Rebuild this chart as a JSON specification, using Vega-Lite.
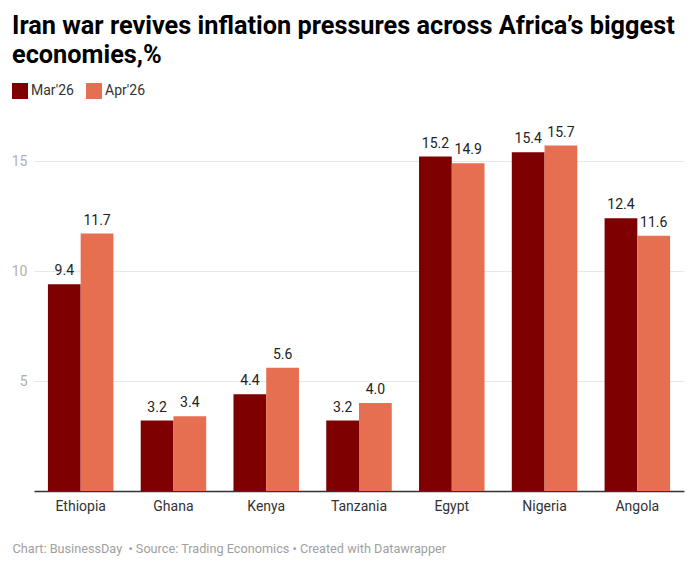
{
  "$schema": "https://vega.github.io/schema/vega-lite/v6.json",
  "width": 650,
  "height": 374,
  "autosize": "none",
  "padding": {"left": 34, "right": 12, "top": 117, "bottom": 76},
  "background": "white",
  "view": {"stroke": null},
  "title": {
    "text": ["Iran war revives inflation pressures across Africa’s biggest", "economies,%"],
    "anchor": "start",
    "frame": "group",
    "dx": -22,
    "font": "Roboto",
    "fontSize": 25.3,
    "fontWeight": 700,
    "color": "#000000",
    "lineHeight": 29,
    "offset": 15
  },
  "data": {
    "values": [
      {"country": "Ethiopia", "month": "Mar'26", "value": 9.4},
      {"country": "Ethiopia", "month": "Apr'26", "value": 11.7},
      {"country": "Ghana", "month": "Mar'26", "value": 3.2},
      {"country": "Ghana", "month": "Apr'26", "value": 3.4},
      {"country": "Kenya", "month": "Mar'26", "value": 4.4},
      {"country": "Kenya", "month": "Apr'26", "value": 5.6},
      {"country": "Tanzania", "month": "Mar'26", "value": 3.2},
      {"country": "Tanzania", "month": "Apr'26", "value": 4.0},
      {"country": "Egypt", "month": "Mar'26", "value": 15.2},
      {"country": "Egypt", "month": "Apr'26", "value": 14.9},
      {"country": "Nigeria", "month": "Mar'26", "value": 15.4},
      {"country": "Nigeria", "month": "Apr'26", "value": 15.7},
      {"country": "Angola", "month": "Mar'26", "value": 12.4},
      {"country": "Angola", "month": "Apr'26", "value": 11.6}
    ]
  },
  "encoding": {
    "x": {
      "field": "country",
      "type": "nominal",
      "sort": null,
      "title": "Chart: BusinessDay\u00a0 • Source: Trading Economics • Created with Datawrapper",
      "scale": {"paddingInner": 0.294, "paddingOuter": 0.15},
      "axis": {
        "labelAngle": 0, "labelFont": "Roboto", "labelFontSize": 14, "labelColor": "#333333", "labelPadding": 8,
        "ticks": false, "domainColor": "#333333", "domainWidth": 1.5, "grid": false,
        "titleFont": "Roboto", "titleFontSize": 12.7, "titleFontWeight": 400, "titleColor": "#a0a0a0",
        "titleAnchor": "start", "titleAlign": "left", "titleBaseline": "alphabetic", "titleX": -22, "titleY": 61
      }
    },
    "xOffset": {"field": "month", "type": "nominal", "sort": ["Mar'26", "Apr'26"]},
    "y": {
      "field": "value",
      "type": "quantitative",
      "title": null,
      "scale": {"domain": [0, 17]},
      "axis": {"values": [5, 10, 15], "orient": "left", "labelFont": "Roboto", "labelFontSize": 14, "labelColor": "#b0b0b0", "labelPadding": 7, "ticks": false, "domain": false, "gridColor": "#e8e8e8", "gridWidth": 1}
    }
  },
  "layer": [
    {
      "mark": {"type": "bar"},
      "encoding": {
        "color": {
          "field": "month",
          "type": "nominal",
          "sort": ["Mar'26", "Apr'26"],
          "scale": {"domain": ["Mar'26", "Apr'26"], "range": ["#7f0000", "#e76f51"]},
          "legend": {"title": null, "orient": "none", "legendX": -22, "legendY": -34, "direction": "horizontal", "symbolType": "square", "symbolSize": 256, "symbolStrokeWidth": 0, "symbolOpacity": 1, "labelFont": "Roboto", "labelFontSize": 14, "labelColor": "#333333", "columnPadding": 12, "labelOffset": 3}
        }
      }
    },
    {
      "mark": {"type": "text", "baseline": "bottom", "dy": -6, "font": "Roboto", "fontSize": 14, "color": "#222222"},
      "encoding": {
        "text": {"field": "value", "type": "quantitative", "format": ".1f"}
      }
    }
  ]
}
